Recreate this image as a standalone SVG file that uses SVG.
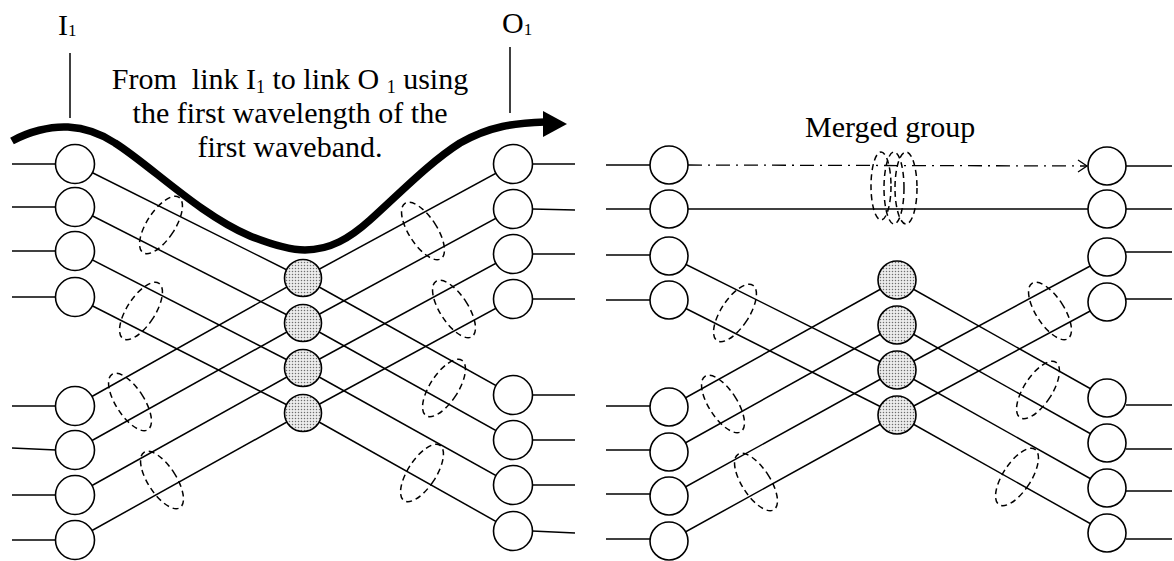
<svg xmlns="http://www.w3.org/2000/svg" width="1174" height="561" viewBox="0 0 1174 561">
<defs>
<pattern id="dots" width="3" height="3" patternUnits="userSpaceOnUse">
<rect width="3" height="3" fill="#ececec"/>
<circle cx="1.5" cy="1.5" r="0.75" fill="#6e6e6e"/>
</pattern>
<style>
.n{fill:#fff;stroke:#000;stroke-width:1.6}
.g{fill:url(#dots);stroke:#000;stroke-width:1.6}
.l line,.l polyline{stroke:#000;stroke-width:1.5;fill:none}
.e ellipse{fill:none;stroke:#000;stroke-width:1.5;stroke-dasharray:6 4}
</style>
</defs>
<rect width="1174" height="561" fill="#fff"/>

<g id="connectors" class="l">
<line x1="12" y1="164" x2="56" y2="164"/>
<line x1="12" y1="207" x2="56" y2="207"/>
<line x1="12" y1="251" x2="56" y2="251"/>
<line x1="12" y1="297" x2="56" y2="297"/>
<line x1="12" y1="406" x2="56" y2="406"/>
<line x1="12" y1="448" x2="56" y2="450"/>
<line x1="12" y1="495" x2="56" y2="495"/>
<line x1="12" y1="540" x2="56" y2="540"/>
<line x1="532" y1="164" x2="575" y2="164"/>
<line x1="532" y1="209" x2="575" y2="210"/>
<line x1="532" y1="254" x2="575" y2="254"/>
<line x1="532" y1="299" x2="575" y2="299"/>
<line x1="532" y1="395" x2="575" y2="395"/>
<line x1="532" y1="440" x2="575" y2="440"/>
<line x1="532" y1="485" x2="575" y2="485"/>
<line x1="532" y1="531" x2="575" y2="533"/>
<line x1="75" y1="164" x2="303" y2="278"/>
<line x1="75" y1="207" x2="303" y2="323"/>
<line x1="75" y1="251" x2="303" y2="368"/>
<line x1="75" y1="297" x2="303" y2="413"/>
<line x1="75" y1="406" x2="303" y2="278"/>
<line x1="75" y1="450" x2="303" y2="323"/>
<line x1="75" y1="495" x2="303" y2="368"/>
<line x1="75" y1="540" x2="303" y2="413"/>
<line x1="303" y1="278" x2="513" y2="164"/>
<line x1="303" y1="323" x2="513" y2="209"/>
<line x1="303" y1="368" x2="513" y2="254"/>
<line x1="303" y1="413" x2="513" y2="299"/>
<line x1="303" y1="278" x2="513" y2="395"/>
<line x1="303" y1="323" x2="513" y2="440"/>
<line x1="303" y1="368" x2="513" y2="485"/>
<line x1="303" y1="413" x2="513" y2="531"/>
<line x1="606" y1="165" x2="650" y2="165"/>
<line x1="606" y1="209" x2="650" y2="209"/>
<line x1="606" y1="255" x2="650" y2="255"/>
<line x1="606" y1="300" x2="650" y2="300"/>
<line x1="606" y1="406" x2="650" y2="406"/>
<line x1="606" y1="450" x2="650" y2="450"/>
<line x1="606" y1="494" x2="650" y2="494"/>
<line x1="606" y1="539" x2="650" y2="539"/>
<line x1="1126" y1="166" x2="1172" y2="166"/>
<line x1="1126" y1="209" x2="1172" y2="209"/>
<line x1="1126" y1="252" x2="1172" y2="252"/>
<line x1="1126" y1="299" x2="1172" y2="299"/>
<line x1="1126" y1="405" x2="1172" y2="405"/>
<line x1="1126" y1="449" x2="1172" y2="449"/>
<line x1="1126" y1="491" x2="1172" y2="491"/>
<line x1="1126" y1="539" x2="1172" y2="539"/>
<line x1="688" y1="165" x2="1087" y2="166" style="stroke-width:1.3;stroke-dasharray:14 6 2 6"/>
<polyline points="1078,160 1087,166 1078,172" style="stroke-width:1.3"/>
<line x1="688" y1="209" x2="1088" y2="209"/>
<line x1="669" y1="256" x2="897" y2="370"/>
<line x1="669" y1="300" x2="897" y2="415"/>
<line x1="669" y1="407" x2="897" y2="280"/>
<line x1="669" y1="452" x2="897" y2="325"/>
<line x1="669" y1="496" x2="897" y2="370"/>
<line x1="669" y1="541" x2="897" y2="415"/>
<line x1="897" y1="280" x2="1107" y2="398"/>
<line x1="897" y1="325" x2="1107" y2="443"/>
<line x1="897" y1="370" x2="1107" y2="257"/>
<line x1="897" y1="370" x2="1107" y2="488"/>
<line x1="897" y1="415" x2="1107" y2="302"/>
<line x1="897" y1="415" x2="1107" y2="533"/>
<line x1="70" y1="53" x2="70" y2="118"/>
<line x1="510" y1="47" x2="510" y2="113"/>
</g>

<g id="L-in1"><circle class="n" cx="75" cy="164" r="19.5"/></g>
<g id="L-in2"><circle class="n" cx="75" cy="207" r="19.5"/></g>
<g id="L-in3"><circle class="n" cx="75" cy="251" r="19.5"/></g>
<g id="L-in4"><circle class="n" cx="75" cy="297" r="19.5"/></g>
<g id="L-in5"><circle class="n" cx="75" cy="406" r="19.5"/></g>
<g id="L-in6"><circle class="n" cx="75" cy="450" r="19.5"/></g>
<g id="L-in7"><circle class="n" cx="75" cy="495" r="19.5"/></g>
<g id="L-in8"><circle class="n" cx="75" cy="540" r="19.5"/></g>
<g id="L-mid1"><circle class="g" cx="303" cy="278" r="18.5"/></g>
<g id="L-mid2"><circle class="g" cx="303" cy="323" r="18.5"/></g>
<g id="L-mid3"><circle class="g" cx="303" cy="368" r="18.5"/></g>
<g id="L-mid4"><circle class="g" cx="303" cy="413" r="18.5"/></g>
<g id="L-out1"><circle class="n" cx="513" cy="164" r="19.5"/></g>
<g id="L-out2"><circle class="n" cx="513" cy="209" r="19.5"/></g>
<g id="L-out3"><circle class="n" cx="513" cy="254" r="19.5"/></g>
<g id="L-out4"><circle class="n" cx="513" cy="299" r="19.5"/></g>
<g id="L-out5"><circle class="n" cx="513" cy="395" r="19.5"/></g>
<g id="L-out6"><circle class="n" cx="513" cy="440" r="19.5"/></g>
<g id="L-out7"><circle class="n" cx="513" cy="485" r="19.5"/></g>
<g id="L-out8"><circle class="n" cx="513" cy="531" r="19.5"/></g>

<g id="R-in1"><circle class="n" cx="669" cy="165" r="19"/></g>
<g id="R-in2"><circle class="n" cx="669" cy="209" r="19"/></g>
<g id="R-in3"><circle class="n" cx="669" cy="256" r="19"/></g>
<g id="R-in4"><circle class="n" cx="669" cy="300" r="19"/></g>
<g id="R-in5"><circle class="n" cx="669" cy="407" r="19"/></g>
<g id="R-in6"><circle class="n" cx="669" cy="452" r="19"/></g>
<g id="R-in7"><circle class="n" cx="669" cy="496" r="19"/></g>
<g id="R-in8"><circle class="n" cx="669" cy="541" r="19"/></g>
<g id="R-mid1"><circle class="g" cx="897" cy="280" r="19"/></g>
<g id="R-mid2"><circle class="g" cx="897" cy="325" r="19"/></g>
<g id="R-mid3"><circle class="g" cx="897" cy="370" r="19"/></g>
<g id="R-mid4"><circle class="g" cx="897" cy="415" r="19"/></g>
<g id="R-out1"><circle class="n" cx="1107" cy="166" r="19"/></g>
<g id="R-out2"><circle class="n" cx="1107" cy="209" r="19"/></g>
<g id="R-out3"><circle class="n" cx="1107" cy="257" r="19"/></g>
<g id="R-out4"><circle class="n" cx="1107" cy="302" r="19"/></g>
<g id="R-out5"><circle class="n" cx="1107" cy="398" r="19"/></g>
<g id="R-out6"><circle class="n" cx="1107" cy="443" r="19"/></g>
<g id="R-out7"><circle class="n" cx="1107" cy="488" r="19"/></g>
<g id="R-out8"><circle class="n" cx="1107" cy="533" r="19"/></g>

<g id="wavebands" class="e">
<ellipse cx="161" cy="225" rx="14" ry="33" transform="rotate(33 161 225)"/>
<ellipse cx="141" cy="311" rx="14" ry="33" transform="rotate(33 141 311)"/>
<ellipse cx="130" cy="402" rx="14" ry="33" transform="rotate(-33 130 402)"/>
<ellipse cx="162" cy="480" rx="14" ry="33" transform="rotate(-33 162 480)"/>
<ellipse cx="423" cy="231" rx="14" ry="33" transform="rotate(-33 423 231)"/>
<ellipse cx="454" cy="309" rx="14" ry="33" transform="rotate(-33 454 309)"/>
<ellipse cx="444" cy="388" rx="14" ry="33" transform="rotate(33 444 388)"/>
<ellipse cx="422" cy="473" rx="14" ry="33" transform="rotate(33 422 473)"/>
<ellipse cx="735" cy="313" rx="14" ry="33" transform="rotate(33 735 313)"/>
<ellipse cx="723" cy="404" rx="14" ry="33" transform="rotate(-33 723 404)"/>
<ellipse cx="756" cy="482" rx="14" ry="33" transform="rotate(-33 756 482)"/>
<ellipse cx="1050" cy="311" rx="14" ry="33" transform="rotate(-33 1050 311)"/>
<ellipse cx="1038" cy="390" rx="14" ry="33" transform="rotate(33 1038 390)"/>
<ellipse cx="1017" cy="477" rx="14" ry="33" transform="rotate(33 1017 477)"/>
<ellipse cx="881" cy="186" rx="10" ry="34"/>
<ellipse cx="894" cy="188" rx="10" ry="36"/>
<ellipse cx="906" cy="188" rx="11" ry="36"/>
</g>

<g id="route">
<path d="M12,141 C28,132 50,126 68,127 C85,128 100,133 115,143 C150,165 200,215 250,236 C275,246 290,250 305,250 C330,250 350,238 370,220 C400,193 430,162 460,143 C490,126 515,123 545,122" fill="none" stroke="#000" stroke-width="7.5"/>
<polygon points="543,111 567,124 543,137" fill="#000"/>
</g>

<g id="labels" font-family="'Liberation Serif', 'Times New Roman', serif" font-size="30" fill="#000">
<text x="58" y="35">I<tspan font-size="17" dy="1">1</tspan></text>
<text x="502" y="33">O<tspan font-size="17" dy="2">1</tspan></text>
<text x="290" y="89" text-anchor="middle" xml:space="preserve">From  link I<tspan font-size="18" dy="4">1</tspan><tspan dy="-4"> to link O </tspan><tspan font-size="18" dy="4">1</tspan><tspan dy="-4"> using</tspan></text>
<text x="290" y="123" text-anchor="middle">the first wavelength of the</text>
<text x="290" y="157" text-anchor="middle">first waveband.</text>
<text x="805" y="137">Merged group</text>
</g>
</svg>
